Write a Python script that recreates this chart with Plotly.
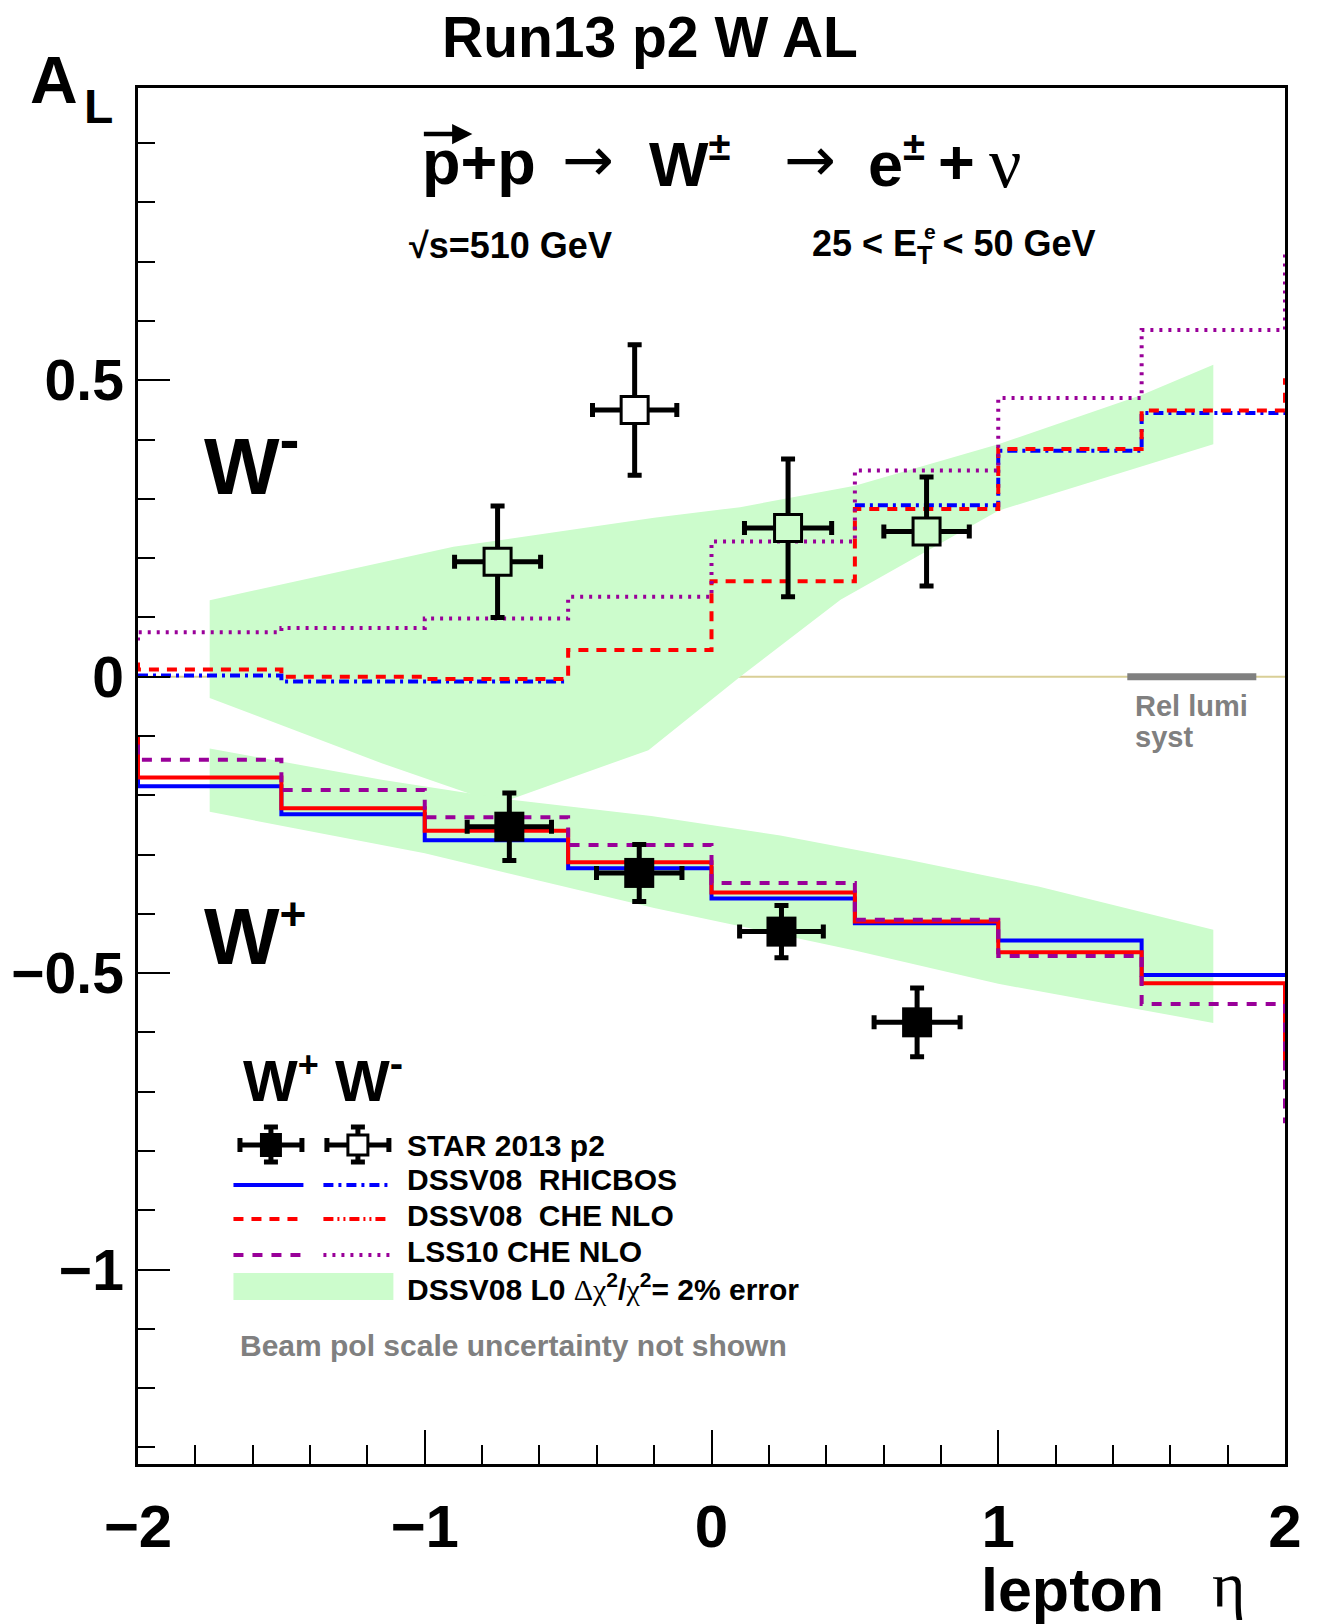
import plotly.graph_objects as go

# ---------------- data ----------------
eta_edges = [-2.5, -2.0, -1.5, -1.0, -0.5, 0.0, 0.5, 1.0, 1.5, 2.0, 2.5]

# W- theory curves (one value per bin, outer bins lie outside the frame)
dssv_che_wm = [0.025, 0.012, 0.000, -0.004, 0.045, 0.161, 0.283, 0.384, 0.449, 0.500]
dssv_rhicbos_wm = [None, 0.002, -0.008, -0.008, None, None, 0.289, 0.381, 0.445, None]
lss_che_wm = [0.060, 0.075, 0.082, 0.098, 0.135, 0.228, 0.348, 0.470, 0.585, 0.714]

# W+ theory curves
dssv_che_wp = [-0.105, -0.170, -0.222, -0.260, -0.313, -0.364, -0.413, -0.465, -0.517, -0.645]
dssv_rhicbos_wp = [-0.110, -0.185, -0.232, -0.276, -0.323, -0.374, -0.416, -0.445, -0.503, None]
lss_che_wp = [-0.100, -0.140, -0.191, -0.237, -0.284, -0.348, -0.410, -0.471, -0.552, -0.750]

# DSSV08 LO error bands
band_wm_up_eta = [-1.75, -0.9, -0.2, 0.1, 0.5, 1.0, 1.5, 1.75]
band_wm_up = [0.129, 0.219, 0.268, 0.286, 0.322, 0.392, 0.475, 0.526]
band_wm_lo_eta = [-1.75, -1.15, -0.84, -0.72, -0.5, -0.22, 0.1, 0.45, 1.0, 1.75]
band_wm_lo = [-0.036, -0.146, -0.198, -0.210, -0.172, -0.124, 0.0, 0.130, 0.280, 0.392]

band_wp_up_eta = [-1.75, -1.15, -0.84, -0.69, -0.21, 0.24, 0.69, 1.14, 1.75]
band_wp_up = [-0.121, -0.174, -0.197, -0.208, -0.235, -0.268, -0.309, -0.354, -0.427]
band_wp_lo_eta = [-1.75, -1.0, -0.2, 0.5, 1.0, 1.75]
band_wp_lo = [-0.228, -0.298, -0.390, -0.462, -0.518, -0.584]

# STAR 2013 p2 data
wm_eta = [-0.746, -0.268, 0.267, 0.750]
wm_eta_err = [0.150, 0.147, 0.152, 0.149]
wm_al = [0.194, 0.450, 0.251, 0.245]
wm_al_err = [0.094, 0.110, 0.116, 0.092]

wp_eta = [-0.705, -0.252, 0.244, 0.717]
wp_eta_err = [0.147, 0.149, 0.146, 0.150]
wp_al = [-0.253, -0.331, -0.430, -0.583]
wp_al_err = [0.057, 0.048, 0.044, 0.058]

rel_lumi_eta = [1.45, 1.90]

# ---------------- styles ----------------
GREEN = "#ccfccc"
RED = "#ff0000"
BLUE = "#0000ff"
MAG = "#990099"
GRAY = "#808080"
FONT = "Liberation Sans"
SERIF = "Liberation Serif"

# plot-area geometry in page pixels
L, R, T, B = 137.5, 1285.0, 88.0, 1464.0
W_PAGE, H_PAGE = 1325, 1624


def px(x):
    return (x - L) / (R - L)


def py(y):
    return (B - y) / (B - T)


def step_xy(edges, vals):
    xs, ys = [], []
    for i, v in enumerate(vals):
        if v is None:
            if xs and xs[-1] is not None:
                xs.append(None)
                ys.append(None)
            continue
        xs += [edges[i], edges[i + 1]]
        ys += [v, v]
    return xs, ys


fig = go.Figure()

# bands
for up_x, up_y, lo_x, lo_y in [
    (band_wm_up_eta, band_wm_up, band_wm_lo_eta, band_wm_lo),
    (band_wp_up_eta, band_wp_up, band_wp_lo_eta, band_wp_lo),
]:
    fig.add_trace(go.Scatter(
        x=up_x + lo_x[::-1], y=up_y + lo_y[::-1], mode="lines",
        fill="toself", fillcolor=GREEN, line=dict(width=0), hoverinfo="skip"))

# theory curves
curves = [
    (dssv_rhicbos_wm, BLUE, "10px,5px,3px,5px"),
    (dssv_rhicbos_wp, BLUE, "solid"),
    (dssv_che_wm, RED, "10px,8px"),
    (dssv_che_wp, RED, "solid"),
    (lss_che_wm, MAG, "3px,6px"),
    (lss_che_wp, MAG, "10px,9px"),
]
for vals, col, dash in curves:
    xs, ys = step_xy(eta_edges, vals)
    fig.add_trace(go.Scatter(x=xs, y=ys, mode="lines",
                             line=dict(color=col, width=4, dash=dash),
                             connectgaps=False, hoverinfo="skip"))

# data points
err_style = dict(type="data", color="black", thickness=5, width=7, visible=True)
fig.add_trace(go.Scatter(
    x=wp_eta, y=wp_al, mode="markers",
    marker=dict(symbol="square", size=30, color="black", line=dict(width=0)),
    error_x=dict(array=wp_eta_err, **err_style),
    error_y=dict(array=wp_al_err, **err_style)))
fig.add_trace(go.Scatter(
    x=wm_eta, y=wm_al, mode="markers",
    marker=dict(symbol="square", size=27,
                color=[GREEN, "white", GREEN, GREEN],
                line=dict(width=3, color="black")),
    error_x=dict(array=wm_eta_err, **err_style),
    error_y=dict(array=wm_al_err, **err_style)))

shapes = []
# zero line
shapes.append(dict(type="line", xref="x", yref="y", x0=-2, x1=2, y0=0, y1=0,
                   line=dict(color="#d9cf97", width=2), layer="below"))
# rel lumi bar
shapes.append(dict(type="line", xref="x", yref="y", x0=rel_lumi_eta[0], x1=rel_lumi_eta[1],
                   y0=0, y1=0, line=dict(color=GRAY, width=7)))


def pline(x0, y0, x1, y1, color="black", width=4, dash="solid"):
    shapes.append(dict(type="line", xref="paper", yref="paper",
                       x0=px(x0), x1=px(x1), y0=py(y0), y1=py(y1),
                       line=dict(color=color, width=width, dash=dash)))


def prect(x0, y0, x1, y1, fill, lcolor=None, lwidth=0):
    shapes.append(dict(type="rect", xref="paper", yref="paper",
                       x0=px(x0), x1=px(x1), y0=py(y0), y1=py(y1),
                       fillcolor=fill,
                       line=dict(color=lcolor or fill, width=lwidth)))


# legend symbols: row 1 data markers
for cx, filled in [(270.5, True), (357.5, False)]:
    cy = 1145
    pline(cx - 31, cy, cx + 31, cy, width=5)
    pline(cx - 31, cy - 7, cx - 31, cy + 7, width=5)
    pline(cx + 31, cy - 7, cx + 31, cy + 7, width=5)
    pline(cx, cy - 18, cx, cy + 17, width=5)
    pline(cx - 7, cy - 18, cx + 7, cy - 18, width=5)
    pline(cx - 7, cy + 17, cx + 7, cy + 17, width=5)
    if filled:
        prect(cx - 11, cy - 12, cx + 11, cy + 12, "black")
    else:
        prect(cx - 10, cy - 10, cx + 10, cy + 10, "white", "black", 3)
# rows 2-4 lines
pline(233, 1185, 303, 1185, BLUE)
pline(323, 1185, 389, 1185, BLUE, dash="10px,5px,3px,5px")
pline(233, 1219, 303, 1219, RED, dash="10px,8px")
pline(323, 1219, 389, 1219, RED, dash="10px,4px,2px,4px,2px,4px")
pline(233, 1255, 303, 1255, MAG, dash="10px,9px")
pline(323, 1255, 391, 1255, MAG, dash="3px,6px")
# row 5 band box
prect(233, 1273, 393, 1300, GREEN)

annotations = []


def text(x, y, s, size, color="black", anchor="left", bold=True, family=FONT):
    annotations.append(dict(
        xref="paper", yref="paper", x=px(x), y=py(y), text=s, showarrow=False,
        xanchor=anchor, yanchor="middle",
        font=dict(family=family, size=size, color=color,
                  weight="bold" if bold else "normal")))


def small(s, size):
    return "<span style=\"font-size:%dpx\">%s</span>" % (size, s)


text(650, 37, "Run13 p2 W AL", 57, anchor="center")
text(27, 80, "A", 66)
text(81, 106, "L", 48)
text(979, 1590, "lepton", 61)
text(1210, 1584, "η", 64, bold=False, family=SERIF)

# reaction formula
text(420, 162, "p+p", 63)
text(560, 160, "→", 62, bold=False, family="DejaVu Sans")
text(647, 162, "W<sup>" + small("±", 40) + "</sup>", 63)
text(782, 160, "→", 62, bold=False, family="DejaVu Sans")
text(866, 162, "e<sup>" + small("±", 40) + "</sup>", 63)
text(936, 162, "+", 63)
text(987, 163, "ν", 72, bold=False, family=SERIF)
annotations.append(dict(xref="paper", yref="paper", x=px(472), y=py(134), ax=-50, ay=0,
                        text="", showarrow=True, arrowhead=2, arrowsize=0.9,
                        arrowwidth=4.5, arrowcolor="black"))

text(407, 246, "√s=510 GeV", 36)
text(810, 246, "25 < E<sub>T</sub> < 50 GeV", 36)
text(922, 232, "e", 21)

text(202, 458, "W<sup>" + small("-", 60) + "</sup>", 80)
text(202, 935, "W<sup>" + small("+", 46) + "</sup>", 80)
text(241, 1077, "W<sup>" + small("+", 36) + "</sup> W<sup>" + small("-", 40) + "</sup>", 58)

# legend labels
text(405, 1145, "STAR 2013 p2", 30)
text(405, 1179, "DSSV08\u00a0\u00a0RHICBOS", 30)
text(405, 1215, "DSSV08\u00a0\u00a0CHE NLO", 30)
text(405, 1251, "LSS10 CHE NLO", 30)
text(405, 1287,
     "DSSV08 L0 <span style=\"font-family:Liberation Serif;font-weight:normal\">Δχ</span>"
     "<sup>2</sup>/<span style=\"font-family:Liberation Serif;font-weight:normal\">χ</span>"
     "<sup>2</sup>= 2% error", 30)
text(238, 1345, "Beam pol scale uncertainty not shown", 30, color=GRAY)

text(1133, 706, "Rel lumi", 29, color=GRAY)
text(1133, 737, "syst", 29, color=GRAY)

fig.update_layout(
    width=W_PAGE, height=H_PAGE,
    margin=dict(l=L, r=W_PAGE - R, t=T, b=H_PAGE - B, autoexpand=False),
    paper_bgcolor="white", plot_bgcolor="white",
    showlegend=False,
    shapes=shapes, annotations=annotations,
    xaxis=dict(range=[-2, 2], dtick=1, tick0=0, ticks="inside", ticklen=34, tickwidth=2,
               tickcolor="black", showgrid=False, zeroline=False,
               showline=True, linecolor="black", linewidth=2.5, mirror=True,
               tickfont=dict(family=FONT, size=60, color="black", weight="bold"),
               ticklabelstandoff=8,
               minor=dict(dtick=0.2, ticks="inside", ticklen=19, tickwidth=2,
                          tickcolor="black", showgrid=False)),
    yaxis=dict(range=[-1.328, 0.993], dtick=0.5, tick0=0, ticks="inside", ticklen=32,
               tickwidth=2, tickcolor="black", showgrid=False, zeroline=False,
               showline=True, linecolor="black", linewidth=2.5, mirror=True,
               tickfont=dict(family=FONT, size=57, color="black", weight="bold"),
               ticklabelstandoff=0,
               minor=dict(dtick=0.1, ticks="inside", ticklen=17, tickwidth=2,
                          tickcolor="black", showgrid=False)),
)

fig.write_html("out.html")
